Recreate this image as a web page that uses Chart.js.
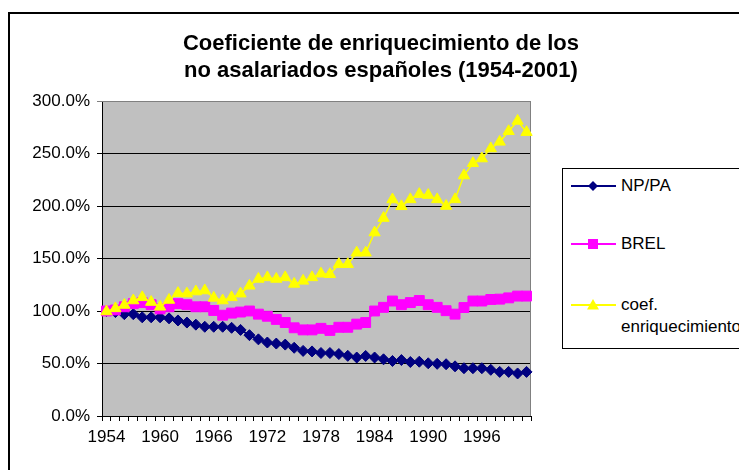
<!DOCTYPE html>
<html>
<head>
<meta charset="utf-8">
<script src="https://cdn.jsdelivr.net/npm/chart.js@4/dist/chart.umd.min.js"></script>
<style>
  html, body { margin: 0; padding: 0; background: #fff; }
  #wrap { position: relative; width: 739px; height: 470px; overflow: hidden; background: #fff;
          font-family: 'Liberation Sans', Arial, sans-serif; }
  #frame { position: absolute; left: 8px; top: 12px; width: 800px; height: 520px; border: 2px solid #000; box-sizing: border-box; }
  #title { position: absolute; left: 0; top: 29px; width: 762px; text-align: center; font-weight: bold;
           font-size: 22px; line-height: 27px; color: #000; }
  #c { position: absolute; left: 0; top: 0; }
  #legend { position: absolute; left: 562px; top: 168px; width: 200px; height: 181px; border: 1px solid #000; box-sizing: border-box; background: #fff; }
  .lt { position: absolute; left: 621px; font-size: 17px; line-height: 22px; color: #000; white-space: nowrap; }
  #legsym { position: absolute; left: 0; top: 0; }
</style>
</head>
<body>
<div id="wrap">
  <div id="frame"></div>
  <canvas id="c" width="739" height="470"></canvas>
  <div id="title">Coeficiente de enriquecimiento de los<br>no asalariados españoles (1954-2001)</div>
  <div id="legend"></div>
  <svg id="legsym" width="739" height="470">
    <line x1="571" y1="186" x2="616" y2="186" stroke="#000080" stroke-width="2"/>
    <polygon points="593,181 598,186 593,191 588,186" fill="#000080"/>
    <line x1="571" y1="244" x2="616" y2="244" stroke="#FF00FF" stroke-width="2"/>
    <rect x="588" y="239" width="10" height="10" fill="#FF00FF"/>
    <line x1="571" y1="305" x2="616" y2="305" stroke="#FFFF00" stroke-width="2"/>
    <polygon points="593,299 599,309.5 587,309.5" fill="#FFFF00"/>
  </svg>
  <div class="lt" style="top:175px">NP/PA</div>
  <div class="lt" style="top:233px">BREL</div>
  <div class="lt" style="top:294px">coef.<br>enriquecimiento</div>
</div>
<script>
const years = [1954,1955,1956,1957,1958,1959,1960,1961,1962,1963,1964,1965,1966,1967,1968,1969,
  1970,1971,1972,1973,1974,1975,1976,1977,1978,1979,1980,1981,1982,1983,1984,1985,1986,1987,
  1988,1989,1990,1991,1992,1993,1994,1995,1996,1997,1998,1999,2000,2001];

const npPa = [100,99,97,97,94,94,94,93,91,89,87,85,85,85,84,82,
  77,73,70,69,68,65,62,61.5,60,60,59,57.3,55.7,57.2,55.7,54,52.4,53.3,
  51.4,51.7,50.2,49.7,49.3,47.3,45.5,45.5,45.5,44,42,42,40.5,42];

const brel = [100,101,104,107,108,106,102,104,107,106,104,104,100.5,96,98,99,
  100,97,95,92,89,84,82,82,83.5,81.5,84.5,84.5,87.5,89,100,103.5,109.5,106,
  108,110,106,103.5,100.3,97,103.3,109.5,109.5,111,111.3,112.5,114.2,114.2];

const coef = [99.5,102.5,105.7,110,113,108.5,104,110.5,117,116.5,118.5,119.5,112.5,110,113,116.5,
  124,130.5,132,130.5,132,125.8,128.7,132,135.5,135,144.6,144.6,155.5,155.5,174.7,188.5,206.2,199.7,
  206.3,211.3,210.4,206.3,200,206.3,229,240.7,245.2,254.8,261.1,271.2,281,270.3];

const yTicks = [0,50,100,150,200,250,300];
const xLabelEvery = 6;

const plotBg = {
  id: 'plotBg',
  beforeDraw(chart) {
    const {ctx, chartArea: a} = chart;
    ctx.save();
    ctx.fillStyle = '#C0C0C0';
    ctx.fillRect(a.left, a.top, a.right - a.left, a.bottom - a.top);
    ctx.restore();
  },
  beforeDatasetsDraw(chart) {
    const {ctx, chartArea: a} = chart;
    ctx.save();
    ctx.strokeStyle = '#808080';
    ctx.lineWidth = 1;
    ctx.beginPath();
    ctx.moveTo(a.left, a.top + 0.5);
    ctx.lineTo(a.right - 0.5, a.top + 0.5);
    ctx.lineTo(a.right - 0.5, a.bottom);
    ctx.stroke();
    ctx.restore();
  }
};

Chart.defaults.font.family = "'Liberation Sans', Arial, sans-serif";
Chart.defaults.color = '#000';

new Chart(document.getElementById('c'), {
  type: 'line',
  data: {
    labels: years,
    datasets: [
      { label: 'NP/PA', data: npPa, borderColor: '#000080', backgroundColor: '#000080',
        borderWidth: 2, pointStyle: 'rectRot', pointRadius: 5.5, pointBorderWidth: 1,
        pointBorderColor: '#000080', pointBackgroundColor: '#000080', order: 3 },
      { label: 'BREL', data: brel, borderColor: '#FF00FF', backgroundColor: '#FF00FF',
        borderWidth: 2, pointStyle: 'rect', pointRadius: 7, pointBorderWidth: 1,
        pointBorderColor: '#FF00FF', pointBackgroundColor: '#FF00FF', order: 2 },
      { label: 'coef. enriquecimiento', data: coef, borderColor: '#FFFF00', backgroundColor: '#FFFF00',
        borderWidth: 1.5, pointStyle: 'triangle', pointRadius: 6.5, pointBorderWidth: 1,
        pointBorderColor: '#FFFF00', pointBackgroundColor: '#FFFF00', order: 1 }
    ]
  },
  options: {
    responsive: false,
    animation: false,
    devicePixelRatio: 1,
    layout: { padding: { left: 0, top: 101, right: 208, bottom: 0 } },
    plugins: { legend: { display: false }, title: { display: false }, tooltip: { enabled: false } },
    elements: { line: { tension: 0 } },
    scales: {
      x: {
        type: 'category',
        offset: true,
        grid: { offset: true, drawOnChartArea: false, drawTicks: true, tickLength: 5, color: '#000' },
        border: { display: true, color: '#000', width: 1 },
        ticks: {
          autoSkip: false, maxRotation: 0, minRotation: 0, padding: 6,
          font: { size: 17 },
          callback: function(v, i) { return i % xLabelEvery === 0 ? String(years[i]) : ''; }
        },
        afterFit(s) { s.height = 54; }
      },
      y: {
        min: 0, max: 300,
        afterBuildTicks(s) { s.ticks = yTicks.map(v => ({ value: v })); },
        grid: { drawTicks: true, tickLength: 5,
                color: (c) => (c.tick && c.tick.value === 300) ? '#808080' : '#000' },
        border: { display: true, color: '#000', width: 1 },
        ticks: { padding: 7, font: { size: 17 }, callback: (v) => v.toFixed(1) + '%' },
        afterFit(s) { s.width = 102; }
      }
    }
  },
  plugins: [plotBg]
});
</script>
</body>
</html>
